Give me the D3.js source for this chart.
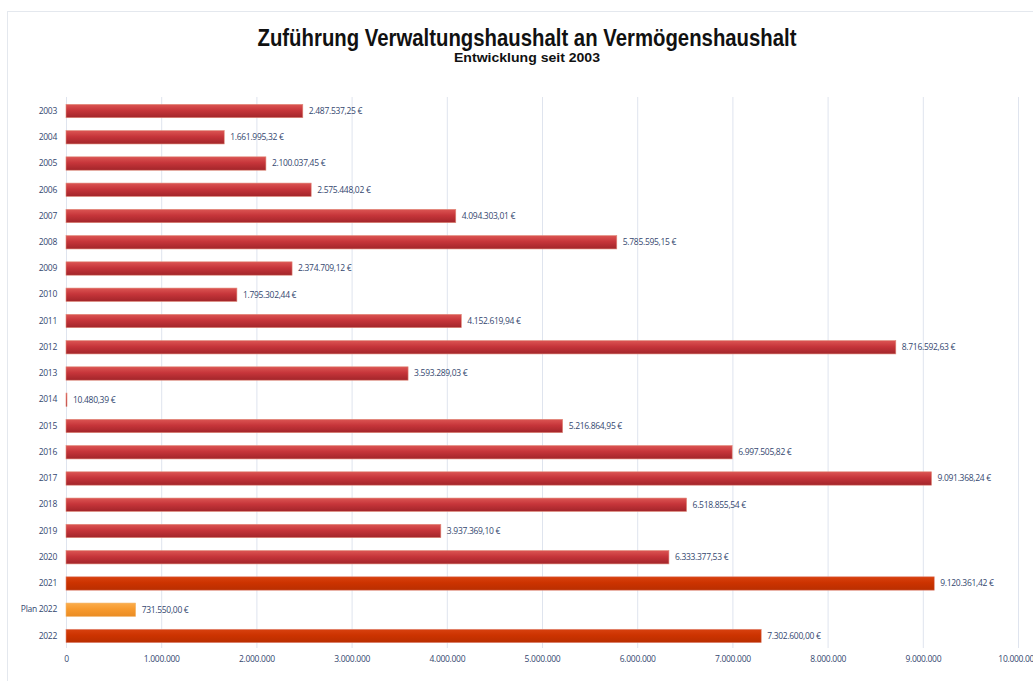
<!DOCTYPE html>
<html>
<head>
<meta charset="utf-8">
<script src="https://cdn.jsdelivr.net/npm/d3@7"></script>
<style>
  body { margin: 0; background: #fff; }
  svg { display: block; }
</style>
</head>
<body>
<script>
// data
var categories = ['2003','2004','2005','2006','2007','2008','2009','2010','2011','2012',
  '2013','2014','2015','2016','2017','2018','2019','2020','2021','Plan 2022','2022'];
var values = [2487537.25, 1661995.32, 2100037.45, 2575448.02, 4094303.01, 5785595.15,
  2374709.12, 1795302.44, 4152619.94, 8716592.63, 3593289.03, 10480.39, 5216864.95,
  6997505.82, 9091368.24, 6518855.54, 3937369.10, 6333377.53, 9120361.42, 731550.00,
  7302600.00];
var barKind = ['ist','ist','ist','ist','ist','ist','ist','ist','ist','ist',
  'ist','ist','ist','ist','ist','ist','ist','ist','neu','plan','neu'];
var xTicks = [0,1000000,2000000,3000000,4000000,5000000,6000000,7000000,8000000,9000000,10000000];

var W = 1033, H = 681;
var de = d3.formatLocale({decimal: ',', thousands: '.', grouping: [3], currency: ['', ' €']});
var fmtTick = de.format(',.0f');
var fmtVal = function(v) { return de.format(',.2f')(v) + ' €'; };

var svg = d3.select('body').append('svg').attr('width', W).attr('height', H);

var defs = svg.append('defs');
function grad(id, top, mid, bot) {
  var g = defs.append('linearGradient').attr('id', id)
    .attr('x1', 0).attr('y1', 0).attr('x2', 0).attr('y2', 1);
  g.append('stop').attr('offset', '0%').attr('stop-color', top);
  g.append('stop').attr('offset', '45%').attr('stop-color', mid);
  g.append('stop').attr('offset', '100%').attr('stop-color', bot);
}
grad('gIst', '#dc5553', '#c6353a', '#a2252a');
grad('gNeu', '#d8410f', '#cc3300', '#b92e00');
grad('gPlan', '#fbad4c', '#f79a2e', '#ea8c24');
var fills = {ist: 'url(#gIst)', neu: 'url(#gNeu)', plan: 'url(#gPlan)'};

// frame
svg.append('rect').attr('x', 7.5).attr('y', 11.5).attr('width', 1040).attr('height', 700)
  .attr('fill', 'none').attr('stroke', '#e4e8ee');

// titles
svg.append('text').attr('x', 527).attr('y', 46).attr('text-anchor', 'middle')
  .style('font-family', '"Liberation Sans", Arial, sans-serif')
  .style('font-weight', 'bold').style('font-size', '23px').attr('fill', '#111')
  .attr('textLength', 539).attr('lengthAdjust', 'spacingAndGlyphs')
  .text('Zuführung Verwaltungshaushalt an Vermögenshaushalt');
svg.append('text').attr('x', 527).attr('y', 62).attr('text-anchor', 'middle')
  .style('font-family', '"Liberation Sans", Arial, sans-serif')
  .style('font-weight', 'bold').style('font-size', '13px').attr('fill', '#111')
  .attr('textLength', 146).attr('lengthAdjust', 'spacingAndGlyphs')
  .text('Entwicklung seit 2003');

var x = d3.scaleLinear().domain([0, 10000000]).range([66, 1018]);
var y = d3.scaleBand().domain(categories).range([97.9, 649.1]).paddingInner(0.49).paddingOuter(0.245);

// grid
svg.append('g').selectAll('line').data(xTicks).enter().append('line')
  .attr('x1', function(d) { return x(d) + 0.5; }).attr('x2', function(d) { return x(d) + 0.5; })
  .attr('y1', 97).attr('y2', 648)
  .attr('stroke', '#dfe4ee').attr('stroke-width', 1);

var labelFont = '"Open Sans", "Liberation Sans", sans-serif';

// x axis labels
var xAxis = d3.axisBottom(x).tickValues(xTicks).tickFormat(fmtTick).tickSize(0).tickPadding(0);
var gx = svg.append('g').attr('transform', 'translate(0,656)').call(xAxis);
gx.select('.domain').remove();
gx.selectAll('text').attr('fill', '#34476f').style('font-family', labelFont)
  .style('font-size', '8.5px').style('letter-spacing', '-0.3px');

// y axis labels
var yAxis = d3.axisLeft(y).tickSize(0).tickPadding(0);
var gy = svg.append('g').attr('transform', 'translate(57,0)').call(yAxis);
gy.select('.domain').remove();
gy.selectAll('text').attr('fill', '#34476f').style('font-family', labelFont)
  .style('font-size', '8.5px').style('letter-spacing', '-0.3px');

// bars
var rows = categories.map(function(c, i) { return {cat: c, v: values[i], kind: barKind[i]}; });
svg.append('g').selectAll('rect').data(rows).enter().append('rect')
  .attr('x', x(0))
  .attr('y', function(d) { return y(d.cat); })
  .attr('width', function(d) { return Math.max(1, x(d.v) - x(0)); })
  .attr('height', y.bandwidth())
  .attr('fill', function(d) { return fills[d.kind]; })
  .attr('stroke', function(d) { return d.kind === 'plan' ? '#f2b870' : '#e08a7a'; })
  .attr('stroke-width', 0.6);

// value labels
svg.append('g').selectAll('text').data(rows).enter().append('text')
  .attr('x', function(d) { return x(d.v) + 6; })
  .attr('y', function(d) { return y(d.cat) + y.bandwidth() / 2; })
  .attr('dy', '0.35em')
  .attr('fill', '#34476f').style('font-family', labelFont)
  .style('font-size', '8.5px').style('letter-spacing', '-0.3px')
  .text(function(d) { return fmtVal(d.v); });
</script>
</body>
</html>
